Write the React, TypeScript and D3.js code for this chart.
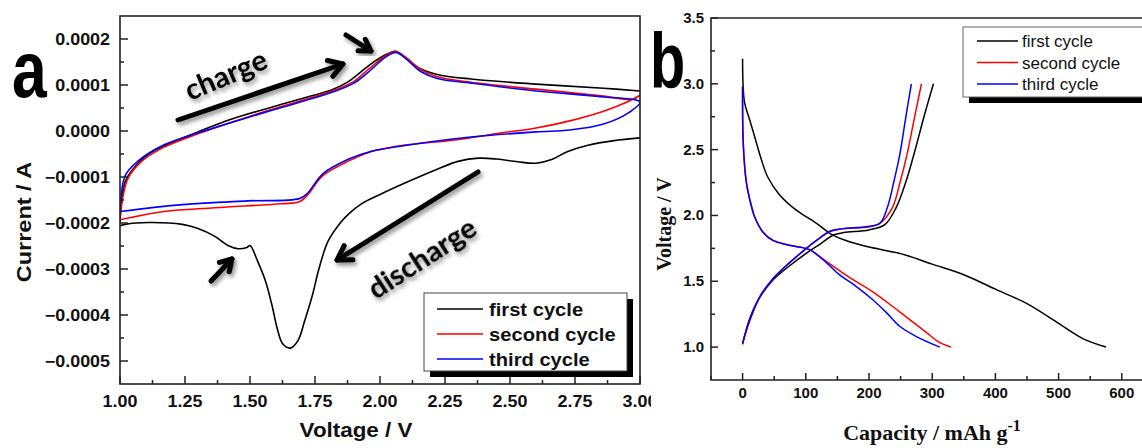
import React from "react";
import * as d3 from "d3";

// ---- panel a : cyclic voltammetry (voltage V, current A) ----
const cvFirstDown: [number, number][] = [
  [3.0, -0.000015], [2.9, -0.000021], [2.8, -0.000031], [2.72, -0.000045], [2.66, -0.000062],
  [2.6, -0.00007], [2.53, -0.000067], [2.45, -0.000061], [2.38, -0.000059], [2.3, -0.000066],
  [2.22, -0.000083], [2.1, -0.000112], [2.0, -0.000138], [1.93, -0.000158], [1.88, -0.00018],
  [1.85, -0.000198], [1.8, -0.00024], [1.765, -0.0003], [1.74, -0.000357], [1.71, -0.000413],
  [1.685, -0.000455], [1.655, -0.000472], [1.625, -0.000462], [1.605, -0.00043], [1.585, -0.00038],
  [1.56, -0.000327], [1.53, -0.000284], [1.5, -0.000249], [1.488, -0.000253], [1.455, -0.000256],
  [1.415, -0.000249], [1.365, -0.000229], [1.3, -0.000212], [1.24, -0.000203], [1.11, -0.000199],
  [1.02, -0.000203], [1.0, -0.000206],
];
const cvFirstUp: [number, number][] = [
  [1.0, -0.0002], [1.02, -0.00011], [1.06, -0.000076], [1.11, -0.00005], [1.17, -0.000032],
  [1.3, -0.000002], [1.43, 0.000026], [1.56, 0.000048], [1.69, 0.000069], [1.82, 0.000091],
  [1.88, 0.000108], [1.93, 0.00013], [1.98, 0.000152], [2.03, 0.000168], [2.06, 0.000173],
  [2.1, 0.000158], [2.15, 0.000137], [2.22, 0.000123], [2.35, 0.000113], [2.6, 0.000102],
  [2.86, 0.000093], [3.0, 0.000087],
];
const cvSecond: [number, number][] = [
  [1.0, -0.00019], [1.03, -0.000104], [1.085, -0.000065], [1.17, -0.000035], [1.3, -0.000006],
  [1.56, 0.000043], [1.815, 0.000087], [1.9, 0.000108], [1.955, 0.000134], [2.02, 0.000163],
  [2.06, 0.000173], [2.1, 0.00016], [2.155, 0.000134], [2.22, 0.000118], [2.35, 0.000106],
  [2.6, 0.000091], [2.86, 0.000076], [2.97, 0.000069], [3.0, 0.000078],
  [2.95, 0.000063], [2.86, 0.000043], [2.73, 0.000022], [2.6, 0.0000065], [2.47, -0.000004],
  [2.28, -0.00002], [2.09, -0.000031], [2.02, -0.000038], [1.96, -0.000046], [1.88, -0.000065],
  [1.78, -0.000097], [1.72, -0.00014], [1.69, -0.000154], [1.62, -0.000158], [1.365, -0.000167],
  [1.17, -0.000175], [1.0, -0.000193],
];
const cvThird: [number, number][] = [
  [1.0, -0.000178], [1.02, -0.000097], [1.07, -0.000065], [1.17, -0.00003], [1.3, -0.000004],
  [1.56, 0.000041], [1.815, 0.000084], [1.9, 0.000104], [1.955, 0.000128], [2.02, 0.00016],
  [2.06, 0.000171], [2.1, 0.000157], [2.155, 0.00013], [2.22, 0.000114], [2.35, 0.000104],
  [2.6, 0.000087], [2.86, 0.000074], [3.0, 0.000063],
  [2.96, 0.000041], [2.86, 0.000015], [2.73, 0.000002], [2.6, -0.000002], [2.35, -0.000013],
  [2.09, -0.000032], [1.96, -0.000045], [1.88, -0.000061], [1.78, -0.000093], [1.72, -0.000136],
  [1.69, -0.000147], [1.49, -0.000152], [1.24, -0.00016], [1.0, -0.000175],
];

// ---- panel b : charge / discharge profiles (capacity mAh/g, voltage V) ----
const gcFirstDis: [number, number][] = [
  [0, 3.19], [3, 2.86], [11, 2.73], [19, 2.6], [30, 2.42], [40, 2.29], [58, 2.16], [85, 2.04],
  [117, 1.94], [143, 1.85], [169, 1.8], [200, 1.76], [250, 1.71], [300, 1.63], [350, 1.55],
  [400, 1.44], [450, 1.33], [500, 1.18], [540, 1.06], [575, 1.0],
];
const gcFirstChg: [number, number][] = [
  [0, 1.02], [10, 1.2], [25, 1.36], [48, 1.51], [75, 1.62], [100, 1.71], [125, 1.79], [143, 1.85],
  [160, 1.87], [200, 1.89], [225, 1.93], [243, 2.06], [258, 2.25], [272, 2.48], [287, 2.75], [302, 3.0],
];
const gcSecondDis: [number, number][] = [
  [0, 2.98], [1, 2.55], [6, 2.25], [14, 2.07], [19, 1.99], [32, 1.875], [48, 1.81], [69, 1.78],
  [90, 1.76], [106, 1.74], [133, 1.65], [169, 1.53], [206, 1.42], [248, 1.27], [291, 1.11],
  [310, 1.04], [330, 1.0],
];
const gcSecondChg: [number, number][] = [
  [0, 1.03], [11, 1.2], [27, 1.38], [48, 1.52], [74, 1.64], [101, 1.75], [117, 1.81], [138, 1.875],
  [160, 1.9], [195, 1.91], [217, 1.94], [237, 2.06], [249, 2.25], [260, 2.46], [271, 2.72], [283, 3.0],
];
const gcThirdDis: [number, number][] = [
  [0, 2.98], [1, 2.55], [6, 2.25], [14, 2.07], [19, 1.99], [32, 1.875], [48, 1.81], [69, 1.78],
  [90, 1.76], [106, 1.74], [133, 1.64], [153, 1.55], [180, 1.46], [206, 1.36], [228, 1.26],
  [248, 1.16], [275, 1.08], [312, 1.0],
];
const gcThirdChg: [number, number][] = [
  [0, 1.03], [11, 1.2], [27, 1.38], [48, 1.52], [74, 1.64], [101, 1.75], [117, 1.81], [138, 1.88],
  [159, 1.9], [195, 1.915], [217, 1.94], [229, 2.06], [239, 2.25], [249, 2.47], [258, 2.74], [267, 3.0],
];

const seriesNames = ["first cycle", "second cycle", "third cycle"];
const seriesColors = ["#000000", "#ff0000", "#0000ff"];

const cvXTicks = [1.0, 1.25, 1.5, 1.75, 2.0, 2.25, 2.5, 2.75, 3.0];
const cvYTicks = [0.0002, 0.0001, 0, -0.0001, -0.0002, -0.0003, -0.0004, -0.0005];
const gcXTicks = [0, 100, 200, 300, 400, 500, 600];
const gcYTicks = [1.0, 1.5, 2.0, 2.5, 3.0, 3.5];

const W = 1142;
const H = 448;
const SANS = "'Liberation Sans', Arial, sans-serif";
const SERIF = "'Liberation Serif', 'Times New Roman', serif";
const HAND = "Lato, 'Open Sans', sans-serif";
const SX = 1.12; // the source figure is a little stretched horizontally

function Arrow({x1, y1, x2, y2, head = 16}: {x1: number; y1: number; x2: number; y2: number; head?: number}) {
  const a = Math.atan2(y2 - y1, x2 - x1);
  const h1 = [x2 - head * Math.cos(a - 0.55), y2 - head * Math.sin(a - 0.55)];
  const h2 = [x2 - head * Math.cos(a + 0.55), y2 - head * Math.sin(a + 0.55)];
  return (
    <g stroke="#000" strokeWidth={5} strokeLinecap="round" fill="none" filter="url(#shadow)">
      <line x1={x1} y1={y1} x2={x2} y2={y2} />
      <polyline points={`${h1[0]},${h1[1]} ${x2},${y2} ${h2[0]},${h2[1]}`} strokeLinejoin="round" />
    </g>
  );
}

export default function App() {
  // panel a scales
  const ax = d3.scaleLinear().domain([1, 3]).range([120, 640]);
  const ay = d3.scaleLinear().domain([-0.00055, 0.00025]).range([384, 16]);
  // panel b scales
  const bx = d3.scaleLinear().domain([-50, 650]).range([711, 1153.4]);
  const by = d3.scaleLinear().domain([0.75, 3.5]).range([380, 18]);

  const cvLine = d3.line<[number, number]>()
    .x(d => ax(d[0])).y(d => ay(d[1]))
    .curve(d3.curveCatmullRom.alpha(0.5));
  const gcLine = d3.line<[number, number]>()
    .x(d => bx(d[0])).y(d => by(d[1]))
    .curve(d3.curveCatmullRom.alpha(0.5));

  const cvMinorX = d3.range(1.125, 3, 0.25);
  const cvMinorY = d3.range(-0.00055, 0.00025, 0.0001).map(v => +v.toFixed(6)).filter(v => v > -0.00055);
  const gcMinorX = d3.range(-50, 651, 100);
  const gcMinorY = d3.range(1.25, 3.5, 0.5);
  const fmtA = d3.format(".4f");

  return (
    <svg width={W} height={H} style={{position: "absolute", left: 0, top: 0, background: "#fff"}}>
      <defs>
        <filter id="shadow" x="-30%" y="-30%" width="160%" height="160%">
          <feDropShadow dx={2} dy={3} stdDeviation={2} floodColor="#000" floodOpacity={0.45} />
        </filter>
        <clipPath id="clipA"><rect x={120} y={16} width={520} height={368} /></clipPath>
      </defs>

      {/* ================= panel a ================= */}
      <g clipPath="url(#clipA)" fill="none" strokeWidth={1.6}>
        <path d={cvLine(cvFirstUp) || ""} stroke={seriesColors[0]} />
        <path d={cvLine(cvFirstDown) || ""} stroke={seriesColors[0]} />
        <path d={cvLine(cvSecond) || ""} stroke={seriesColors[1]} />
        <path d={cvLine(cvThird) || ""} stroke={seriesColors[2]} />
      </g>
      <rect x={120} y={16} width={520} height={368} fill="none" stroke="#222" strokeWidth={1.6} />
      {/* ticks a */}
      <g stroke="#222" strokeWidth={1.5}>
        {cvXTicks.map(t => <line key={"ax" + t} x1={ax(t)} x2={ax(t)} y1={384} y2={376} />)}
        {cvMinorX.map(t => <line key={"axm" + t} x1={ax(t)} x2={ax(t)} y1={384} y2={380} />)}
        {cvYTicks.map(t => <line key={"ay" + t} x1={120} x2={128} y1={ay(t)} y2={ay(t)} />)}
        {cvMinorY.map(t => <line key={"aym" + t} x1={120} x2={124} y1={ay(t)} y2={ay(t)} />)}
      </g>
      <g fontFamily={SANS} fontWeight="bold" fontSize={16} fill="#111">
        {cvXTicks.map(t => (
          <text key={"axl" + t} transform={`translate(${ax(t)},407) scale(${SX},1)`} textAnchor="middle">{t.toFixed(2)}</text>
        ))}
        {cvYTicks.map(t => (
          <text key={"ayl" + t} transform={`translate(110,${ay(t) + 6}) scale(${SX},1)`} textAnchor="end">{fmtA(t)}</text>
        ))}
      </g>
      <text transform={`translate(356,437) scale(${SX},1)`} textAnchor="middle" fontFamily={SANS} fontWeight="bold" fontSize={20} fill="#111">Voltage / V</text>
      <text transform={`translate(31,222) rotate(-90) scale(1.12,1)`} textAnchor="middle" fontFamily={SANS} fontWeight="bold" fontSize={21} fill="#111">Current / A</text>

      {/* annotations */}
      <Arrow x1={178} y1={120} x2={343} y2={64} />
      <Arrow x1={346} y1={35} x2={371} y2={51} head={13} />
      <Arrow x1={478} y1={172} x2={337} y2={260} />
      <Arrow x1={211} y1={281} x2={232} y2={259} head={13} />
      <g filter="url(#shadow)" fontFamily={HAND} fontWeight="bold" fontSize={29} fill="#000">
        <text transform="translate(190,101) rotate(-23)">charge</text>
        <text transform="translate(376,300) rotate(-33)">discharge</text>
      </g>

      {/* legend a */}
      <rect x={430} y={299} width={203} height={78} fill="#000" />
      <rect x={424} y={293} width={203} height={78} fill="#fff" stroke="#444" strokeWidth={1} />
      {seriesNames.map((n, i) => (
        <g key={"la" + n}>
          <line x1={437} x2={483} y1={309 + i * 25} y2={309 + i * 25} stroke={seriesColors[i]} strokeWidth={1.6} />
          <text transform={`translate(489,315.5) translate(0,${i * 25}) scale(${SX},1)`} fontFamily={SANS} fontWeight="bold" fontSize={18} fill="#111">{n}</text>
        </g>
      ))}

      <text transform="translate(12,97) scale(0.78,1)" fontFamily={SANS} fontWeight="bold" fontSize={80} fill="#000">a</text>

      {/* ================= panel b ================= */}
      <rect x={651} y={0} width={W - 651} height={H} fill="#fff" />
      <g fill="none" strokeWidth={1.5}>
        <path d={gcLine(gcFirstDis) || ""} stroke={seriesColors[0]} />
        <path d={gcLine(gcFirstChg) || ""} stroke={seriesColors[0]} />
        <path d={gcLine(gcSecondDis) || ""} stroke={seriesColors[1]} />
        <path d={gcLine(gcSecondChg) || ""} stroke={seriesColors[1]} />
        <path d={gcLine(gcThirdDis) || ""} stroke={seriesColors[2]} />
        <path d={gcLine(gcThirdChg) || ""} stroke={seriesColors[2]} />
      </g>
      <path d={`M${W + 5},18 H711 V380 H${W + 5}`} fill="none" stroke="#222" strokeWidth={1.6} />
      <g stroke="#222" strokeWidth={1.5}>
        {gcXTicks.map(t => <line key={"bx" + t} x1={bx(t)} x2={bx(t)} y1={380} y2={373} />)}
        {gcMinorX.map(t => <line key={"bxm" + t} x1={bx(t)} x2={bx(t)} y1={380} y2={376} />)}
        {gcYTicks.map(t => <line key={"by" + t} x1={711} x2={718} y1={by(t)} y2={by(t)} />)}
        {gcMinorY.map(t => <line key={"bym" + t} x1={711} x2={715} y1={by(t)} y2={by(t)} />)}
      </g>
      <g fontFamily={SANS} fontWeight="bold" fontSize={15} fill="#111">
        {gcXTicks.map(t => (
          <text key={"bxl" + t} x={bx(t)} y={398} textAnchor="middle">{t}</text>
        ))}
        {gcYTicks.map(t => (
          <text key={"byl" + t} x={704} y={by(t) + 5} textAnchor="end">{t.toFixed(1)}</text>
        ))}
      </g>
      <text x={932} y={440} textAnchor="middle" fontFamily={SERIF} fontWeight="bold" fontSize={22} fill="#111">
        Capacity / mAh g<tspan dy={-9} fontSize={16}>-1</tspan>
      </text>
      <text transform="translate(671,224) rotate(-90)" textAnchor="middle" fontFamily={SERIF} fontWeight="bold" fontSize={20} fill="#111">Voltage / V</text>

      {/* legend b */}
      <rect x={969} y={33} width={180} height={70} fill="#000" />
      <rect x={963} y={27} width={180} height={70} fill="#fff" stroke="#666" strokeWidth={1} />
      {seriesNames.map((n, i) => (
        <g key={"lb" + n}>
          <line x1={977} x2={1018} y1={41 + i * 21.5} y2={41 + i * 21.5} stroke={seriesColors[i]} strokeWidth={1.5} />
          <text x={1022} y={47 + i * 21.5} fontFamily={SANS} fontSize={17} fill="#111">{n}</text>
        </g>
      ))}

      <text transform="translate(650,88) scale(0.74,1)" fontFamily={SANS} fontWeight="bold" fontSize={78} fill="#000">b</text>
    </svg>
  );
}
